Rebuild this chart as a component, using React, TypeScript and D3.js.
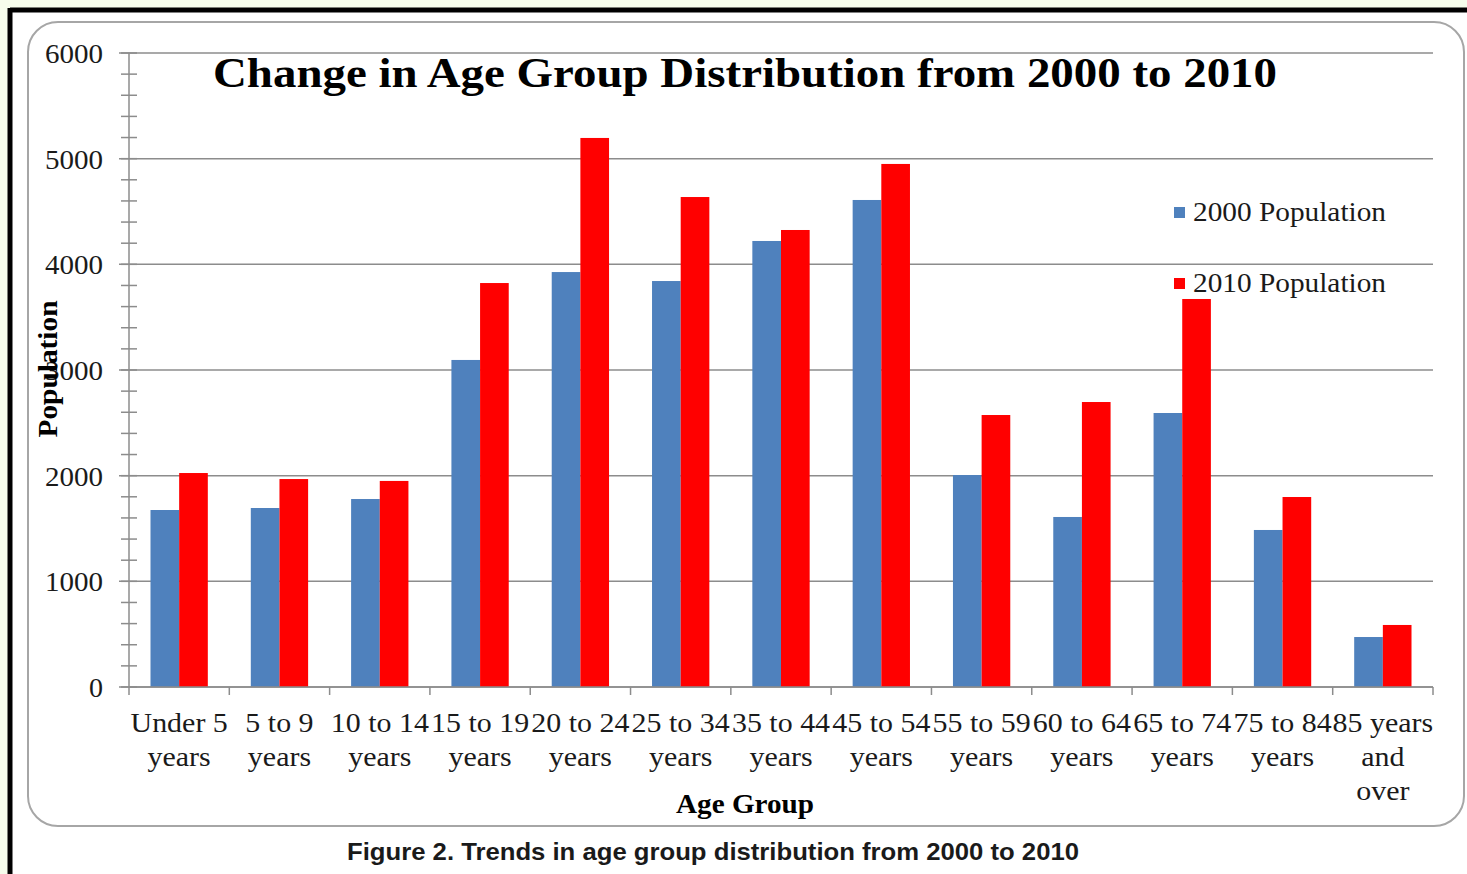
import * as d3 from "d3";

const categories = [
  "Under 5\nyears",
  "5 to 9\nyears",
  "10 to 14\nyears",
  "15 to 19\nyears",
  "20 to 24\nyears",
  "25 to 34\nyears",
  "35 to 44\nyears",
  "45 to 54\nyears",
  "55 to 59\nyears",
  "60 to 64\nyears",
  "65 to 74\nyears",
  "75 to 84\nyears",
  "85 years\nand\nover",
];
const pop2000 = [1675, 1694, 1779, 3095, 3927, 3842, 4221, 4609, 2006, 1609, 2593, 1486, 473];
const pop2010 = [2025, 1968, 1950, 3823, 5196, 4637, 4325, 4950, 2574, 2697, 3672, 1798, 587];
const seriesNames = ["2000 Population", "2010 Population"];
const seriesColors = ["#4f81bd", "#ff0000"];
const yTicks = [0, 1000, 2000, 3000, 4000, 5000, 6000];

const W = 1467;
const H = 874;
const serif = "'Liberation Serif', 'Times New Roman', serif";

export default function App() {
  const x = d3.scaleBand<string>().domain(categories).range([129, 1433]);
  const y = d3.scaleLinear().domain([0, 6000]).range([687, 53]);
  const step = x.step();
  const barW = step / 3.5;
  const minor = d3.range(0, 6001, 200);
  const series = [pop2000, pop2010];

  return (
    <svg
      width={W}
      height={H}
      style={{ position: "fixed", left: 0, top: 0, background: "#f6fdec" }}
    >
      {/* frame */}
      <rect x={12} y={12} width={W} height={H} fill="#ffffff" />
      <line x1={10} y1={10} x2={W} y2={10} stroke="#000" strokeWidth={5} />
      <line x1={10} y1={8} x2={10} y2={H} stroke="#000" strokeWidth={5} />
      <rect
        x={28}
        y={22}
        width={1436}
        height={804}
        rx={30}
        ry={30}
        fill="#fff"
        stroke="#a6a6a6"
        strokeWidth={2}
      />

      {/* gridlines */}
      {yTicks.map((t) => (
        <line key={"g" + t} x1={119} x2={1433} y1={y(t)} y2={y(t)} stroke="#8c8c8c" strokeWidth={1.5} />
      ))}
      {minor.map((t) => (
        <line key={"m" + t} x1={121} x2={137} y1={y(t)} y2={y(t)} stroke="#8c8c8c" strokeWidth={1.5} />
      ))}

      {/* bars */}
      {series.map((vals, si) =>
        vals.map((v, i) => (
          <rect
            key={si + "-" + i}
            x={(x(categories[i]) ?? 0) + step * 0.75 / 3.5 + si * barW}
            y={y(v)}
            width={barW}
            height={y(0) - y(v)}
            fill={seriesColors[si]}
          />
        ))
      )}

      {/* axes */}
      <line x1={129} x2={129} y1={53} y2={687} stroke="#8c8c8c" strokeWidth={1.5} />
      <line x1={129} x2={1433} y1={687} y2={687} stroke="#8c8c8c" strokeWidth={1.5} />
      {d3.range(categories.length + 1).map((i) => (
        <line
          key={"xt" + i}
          x1={129 + i * step}
          x2={129 + i * step}
          y1={687}
          y2={695}
          stroke="#8c8c8c"
          strokeWidth={1.5}
        />
      ))}

      {/* y tick labels */}
      {yTicks.map((t) => (
        <text
          key={"yl" + t}
          x={103}
          y={y(t) + 10}
          textAnchor="end"
          fontFamily={serif}
          fontSize={28}
          textLength={t === 0 ? 14 : 58}
          lengthAdjust="spacingAndGlyphs"
          fill="#1a1a1a"
        >
          {t}
        </text>
      ))}

      {/* x tick labels */}
      {categories.map((c) => (
        <text
          key={"xl" + c}
          transform={`translate(${(x(c) ?? 0) + step / 2},0) scale(1.07,1)`}
          textAnchor="middle"
          fontFamily={serif}
          fontSize={28}
          fill="#1a1a1a"
        >
          {c.split("\n").map((line, li) => (
            <tspan key={li} x={0} y={732 + li * 34}>
              {line}
            </tspan>
          ))}
        </text>
      ))}

      {/* title */}
      <text
        x={745}
        y={87}
        textAnchor="middle"
        fontFamily={serif}
        fontWeight="bold"
        fontSize={42}
        textLength={1064}
        lengthAdjust="spacingAndGlyphs"
        fill="#000"
      >
        Change in Age Group Distribution from 2000 to 2010
      </text>

      {/* axis titles */}
      <text
        x={745}
        y={813}
        textAnchor="middle"
        fontFamily={serif}
        fontWeight="bold"
        fontSize={27}
        textLength={138}
        lengthAdjust="spacingAndGlyphs"
        fill="#000"
      >
        Age Group
      </text>
      <text
        transform="translate(57,369) rotate(-90)"
        textAnchor="middle"
        fontFamily={serif}
        fontWeight="bold"
        fontSize={27}
        textLength={137}
        lengthAdjust="spacingAndGlyphs"
        fill="#000"
      >
        Population
      </text>

      {/* legend */}
      {seriesNames.map((n, i) => (
        <g key={n} transform={`translate(1174,${207 + i * 71})`}>
          <rect x={0} y={0} width={11} height={11} fill={seriesColors[i]} />
          <text
            x={19}
            y={14}
            fontFamily={serif}
            fontSize={27}
            textLength={193}
            lengthAdjust="spacingAndGlyphs"
            fill="#1a1a1a"
          >
            {n}
          </text>
        </g>
      ))}

      {/* caption */}
      <text
        x={713}
        y={860}
        textAnchor="middle"
        fontFamily="'Liberation Sans', Arial, sans-serif"
        fontWeight="bold"
        fontSize={24}
        textLength={732}
        lengthAdjust="spacingAndGlyphs"
        fill="#1a1a1a"
      >
        Figure 2. Trends in age group distribution from 2000 to 2010
      </text>
    </svg>
  );
}
